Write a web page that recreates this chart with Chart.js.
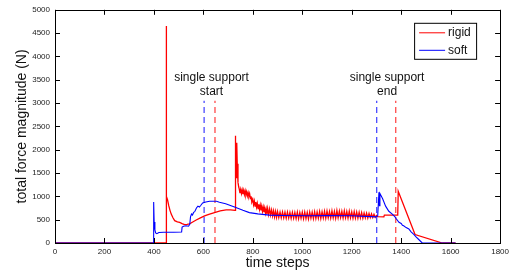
<!DOCTYPE html>
<html>
<head>
<meta charset="utf-8">
<script src="https://cdn.jsdelivr.net/npm/chart.js@4.4.0/dist/chart.umd.min.js"></script>
<style>
  html, body { margin: 0; padding: 0; background: #fff; }
  #wrap { width: 513px; height: 277px; }
</style>
</head>
<body>
<div id="wrap"><canvas id="forceChart"></canvas></div>
<script>
// tick labels
const xTicks = [0, 200, 400, 600, 800, 1000, 1200, 1400, 1600, 1800];
const yTicks = [0, 500, 1000, 1500, 2000, 2500, 3000, 3500, 4000, 4500, 5000];

// soft contact (blue), [time step, force]
const softForce = [
    [0, 0], [398, 0], [399, 880], [401, 450], [404, 280], [407, 215], [412, 200], [420, 225],
    [440, 230], [480, 232], [512, 235], [514, 340], [520, 360], [530, 370], [540, 360], [545, 400],
    [548, 560], [552, 620], [556, 600], [560, 650], [566, 680], [572, 750], [578, 790], [584, 770],
    [590, 810], [597, 860], [610, 880], [625, 895], [653, 895], [665, 875], [690, 840], [726, 770],
    [760, 700], [786, 652], [820, 625], [867, 598], [920, 590], [1028, 583], [1100, 590], [1200, 585],
    [1297, 560], [1305, 580], [1310, 1090], [1312, 800], [1314, 1060], [1325, 950], [1337, 790],
    [1350, 680], [1364, 618], [1375, 560], [1380, 520], [1391, 444], [1400, 420], [1405, 380],
    [1410, 370], [1420, 330], [1431, 300], [1440, 240], [1452, 181], [1460, 130], [1470, 80],
    [1485, 0], [1620, 0]
];

// rigid contact (red), [time step, force]
const rigidForce = [
    [0, 0], [449, 0], [450, 4650], [451, 1000], [455, 930], [460, 800], [465, 700], [470, 620],
    [477, 540], [484, 480], [495, 455], [504, 440], [514, 415], [524, 396], [534, 400], [544, 410],
    [557, 450], [571, 493], [588, 540], [605, 583], [625, 620], [645, 652], [668, 690], [692, 710],
    [710, 712], [728, 700], [729, 2300], [731, 1700], [734, 1400], [735, 2150], [737, 1700],
    [740, 1300], [743, 1200],
    [745, 1160], [748, 1070], [751, 1150], [754, 1060], [757, 1140], [760, 1050], [763, 1130],
    [766, 1040], [769, 1120], [772, 1030], [775, 1100], [778, 1010], [781, 1080], [784, 1000],
    [787, 1060], [790, 960], [793, 980], [796, 880], [800, 930], [803, 820], [806, 900], [809, 790],
    [812, 880], [815, 770], [818, 850], [821, 740], [824, 830], [827, 720], [830, 810], [833, 700],
    [836, 790], [839, 680], [842, 770], [845, 660], [848, 750], [851, 640], [854, 730], [857, 620],
    [860, 740], [864, 610], [868, 730], [872, 600], [876, 710], [880, 580], [884, 690], [888, 560],
    [892, 680], [896, 550], [900, 675], [905, 545], [910, 665], [915, 540], [920, 665], [925, 540],
    [930, 660], [935, 530], [940, 665], [945, 535], [950, 655], [955, 525], [960, 660], [965, 530],
    [970, 655], [975, 525], [980, 665], [985, 520], [990, 655], [995, 530], [1000, 660], [1005, 520],
    [1010, 665], [1015, 525], [1020, 655], [1025, 515], [1030, 665], [1035, 530], [1040, 660],
    [1045, 520], [1050, 670], [1055, 525], [1060, 665], [1065, 530], [1070, 675], [1075, 525],
    [1080, 670], [1085, 535], [1090, 680], [1095, 530], [1100, 685], [1105, 540], [1110, 675],
    [1115, 535], [1120, 690], [1125, 540], [1130, 680], [1135, 530], [1140, 695], [1145, 540],
    [1150, 685], [1155, 545], [1160, 680], [1165, 535], [1170, 690], [1175, 540], [1180, 675],
    [1185, 535], [1190, 685], [1195, 540], [1200, 670], [1205, 530], [1210, 675], [1215, 535],
    [1220, 665], [1225, 530], [1230, 660], [1235, 535], [1240, 655], [1245, 530], [1250, 645],
    [1255, 540], [1260, 640], [1265, 535], [1270, 635], [1275, 545], [1280, 625], [1285, 545],
    [1290, 615], [1295, 550], [1300, 590],
    [1305, 565], [1330, 562], [1332, 597], [1386, 600], [1388, 1110], [1456, 181], [1566, 0],
    [1620, 0]
];

// single support markers (dashed verticals)
const supportSoft = [603, 1301];
const supportRigid = [647, 1378];
const markerTop = [3050];
const supportLabels = [['single support', 'start'], ['single support', 'end']];

const FONT = '"Liberation Sans", Arial, Helvetica, sans-serif';

function toPoints(arr) {
    return arr.map(p => ({ x: p[0], y: p[1] }));
}

function markerLine(x) {
    return [{ x: x, y: 0 }, { x: x, y: markerTop[0] }];
}

const datasets = [
    { label: 'soft', data: toPoints(softForce), borderColor: '#0000ff', borderWidth: 1.1 },
    { label: 'rigid', data: toPoints(rigidForce), borderColor: '#ff0000', borderWidth: 1.3 }
];
supportSoft.forEach(x => datasets.push({ label: 'marker', data: markerLine(x), borderColor: '#3a3aff', borderWidth: 1.2, borderDash: [6, 4] }));
supportRigid.forEach(x => datasets.push({ label: 'marker', data: markerLine(x), borderColor: '#ff3a3a', borderWidth: 1.2, borderDash: [6, 4] }));

// box around plot + inward ticks on all four sides, matlab style
const framePlugin = {
    id: 'frame',
    afterDatasetsDraw(chart) {
        const ctx = chart.ctx;
        const a = chart.chartArea;
        const xs = chart.scales.x, ys = chart.scales.y;
        ctx.save();
        ctx.strokeStyle = '#000';
        ctx.lineWidth = 1;
        ctx.beginPath();
        xTicks.forEach(v => {
            const px = Math.round(xs.getPixelForValue(v)) + 0.5;
            ctx.moveTo(px, a.bottom); ctx.lineTo(px, a.bottom - 5);
            ctx.moveTo(px, a.top); ctx.lineTo(px, a.top + 5);
        });
        yTicks.forEach(v => {
            const py = Math.round(ys.getPixelForValue(v)) + 0.5;
            ctx.moveTo(a.left, py); ctx.lineTo(a.left + 5, py);
            ctx.moveTo(a.right, py); ctx.lineTo(a.right - 5, py);
        });
        ctx.stroke();
        ctx.strokeRect(Math.round(a.left) + 0.5, Math.round(a.top) + 0.5, Math.round(a.right - a.left), Math.round(a.bottom - a.top));

        // annotations
        ctx.fillStyle = '#111';
        ctx.font = '12px ' + FONT;
        ctx.textAlign = 'center';
        ctx.textBaseline = 'middle';
        const centers = [633, 1343];
        supportLabels.forEach((lines, i) => {
            const px = xs.getPixelForValue(centers[i]);
            ctx.fillText(lines[0], px, ys.getPixelForValue(3540));
            ctx.fillText(lines[1], px, ys.getPixelForValue(3240));
        });

        // legend box
        const bx = a.right - 86, by = a.top + 13, bw = 62, bh = 36;
        ctx.fillStyle = '#fff';
        ctx.fillRect(bx, by, bw, bh);
        ctx.strokeStyle = '#000';
        ctx.strokeRect(bx + 0.5, by + 0.5, bw, bh);
        const items = [['rigid', '#ff0000'], ['soft', '#0000ff']];
        items.forEach((it, i) => {
            const ly = by + 10 + i * 17.5;
            ctx.strokeStyle = it[1];
            ctx.beginPath();
            ctx.moveTo(bx + 5, ly); ctx.lineTo(bx + 31, ly);
            ctx.stroke();
            ctx.fillStyle = '#111';
            ctx.textAlign = 'left';
            ctx.fillText(it[0], bx + 34, ly);
        });
        ctx.restore();
    }
};

new Chart(document.getElementById('forceChart'), {
    type: 'line',
    data: { datasets: datasets },
    options: {
        responsive: true,
        maintainAspectRatio: false,
        devicePixelRatio: 1,
        animation: false,
        parsing: false,
        elements: { point: { radius: 0 }, line: { tension: 0 } },
        layout: { padding: { top: 3, right: 12, bottom: 0, left: 0 } },
        plugins: { legend: { display: false }, tooltip: { enabled: false } },
        scales: {
            x: {
                type: 'linear',
                min: 0,
                max: 1800,
                afterBuildTicks: s => { s.ticks = xTicks.map(v => ({ value: v })); },
                afterFit: s => { s.height = 34; },
                grid: { display: false, drawTicks: false, tickLength: 0 },
                border: { display: false },
                ticks: { color: '#222', font: { family: FONT, size: 8 }, padding: 4, maxRotation: 0, callback: v => String(v) },
                title: { display: true, text: 'time steps', color: '#111', font: { family: FONT, size: 14 }, padding: { top: 0, bottom: 5 } }
            },
            y: {
                type: 'linear',
                min: 0,
                max: 5000,
                afterBuildTicks: s => { s.ticks = yTicks.map(v => ({ value: v })); },
                afterFit: s => { s.width = 55; },
                grid: { display: false, drawTicks: false, tickLength: 0 },
                border: { display: false },
                ticks: { color: '#222', font: { family: FONT, size: 8 }, padding: 5, callback: v => String(v) },
                title: { display: true, text: 'total force magnitude (N)', color: '#111', font: { family: FONT, size: 14 }, padding: { top: 14, bottom: 0 } }
            }
        }
    },
    plugins: [framePlugin]
});
</script>
</body>
</html>
